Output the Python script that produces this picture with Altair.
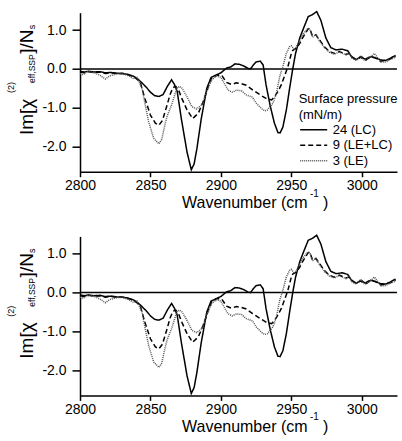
import altair as alt
import pandas as pd

FONT = "Liberation Sans"

names = ["24 (LC)", "9 (LE+LC)", "3 (LE)"]

wn_24 = [2800, 2803, 2806, 2810, 2814, 2818, 2822, 2826, 2830, 2834, 2838, 2841, 2844, 2847, 2850,
         2853, 2856, 2859, 2862, 2865, 2867, 2869, 2872, 2876, 2879, 2881, 2883, 2886, 2890, 2893,
         2897, 2900, 2904, 2907, 2910, 2913, 2916, 2919, 2921, 2923, 2925, 2928, 2930, 2932, 2935,
         2938, 2940.5, 2942, 2944, 2946.5, 2949, 2951, 2953, 2956, 2959, 2962, 2965, 2968, 2971,
         2974.5, 2978, 2981.7, 2986, 2990, 2992.5, 2996, 2999.5, 3003, 3006.5, 3010, 3013.5, 3017,
         3020.5, 3024]
im_24 = [-0.06, -0.08, -0.06, -0.08, -0.07, -0.10, -0.09, -0.11, -0.12, -0.14, -0.19, -0.26, -0.36,
         -0.47, -0.60, -0.69, -0.71, -0.66, -0.45, -0.28, -0.40, -0.58, -1.30, -2.15, -2.60, -2.45,
         -2.05, -1.30, -0.50, -0.22, -0.15, -0.10, 0.02, 0.05, 0.13, 0.12, 0.08, 0.02, 0.00, 0.10,
         0.18, 0.20, 0.10, -0.40, -0.95, -1.40, -1.64, -1.65, -1.50, -1.05, -0.45, 0.00, 0.40, 0.80,
         1.08, 1.35, 1.40, 1.48, 1.25, 0.80, 0.55, 0.49, 0.51, 0.47, 0.33, 0.24, 0.32, 0.23, 0.32,
         0.28, 0.23, 0.22, 0.28, 0.35]

wn_9 = [2800, 2803, 2806, 2810, 2814, 2818, 2822, 2826, 2830, 2834, 2838, 2841, 2843, 2846, 2850,
        2853.5, 2856, 2858.5, 2861.5, 2864, 2866, 2868, 2870, 2872.5, 2876, 2880, 2884, 2887.5,
        2891, 2893.5, 2897, 2900.5, 2904, 2907.5, 2911, 2914.5, 2918, 2922.5, 2927.5, 2932, 2936,
        2938, 2940.5, 2943, 2945, 2947.5, 2950, 2951, 2953.5, 2956, 2958, 2961.7, 2963, 2965,
        2967.5, 2970, 2973.5, 2977, 2980.5, 2984, 2988.8, 2991, 2993, 2996, 2999, 3002, 3006,
        3010, 3013.5, 3017, 3020.5, 3024]
im_9 = [-0.08, -0.10, -0.07, -0.09, -0.08, -0.12, -0.10, -0.12, -0.11, -0.15, -0.20, -0.28, -0.37,
        -0.76, -1.19, -1.40, -1.45, -1.33, -0.97, -0.65, -0.48, -0.45, -0.55, -0.78, -1.06, -1.28,
        -1.14, -0.84, -0.46, -0.24, -0.16, -0.16, -0.35, -0.40, -0.36, -0.38, -0.42, -0.54, -0.66,
        -0.76, -0.80, -0.72, -0.58, -0.40, -0.20, 0.05, 0.40, 0.48, 0.53, 0.66, 0.80, 1.02, 1.05,
        0.85, 0.88, 0.75, 0.57, 0.45, 0.40, 0.45, 0.38, 0.40, 0.30, 0.24, 0.30, 0.24, 0.32, 0.28,
        0.20, 0.22, 0.26, 0.32]

wn_3 = [2800, 2802, 2806, 2810, 2814, 2818, 2821, 2826, 2830, 2834, 2838, 2840.5, 2844, 2846.3,
        2848.7, 2852.3, 2856, 2858, 2860.5, 2862, 2865, 2868.7, 2870.5, 2872.5, 2876, 2879.3,
        2882.8, 2886.4, 2890, 2893.4, 2897, 2900, 2902, 2905, 2908, 2911, 2914.5, 2918, 2922.5,
        2925, 2928.7, 2931, 2933, 2935, 2937, 2939.4, 2941.7, 2944, 2946.4, 2948.7, 2950, 2952.3,
        2955.8, 2958, 2961.7, 2963, 2965, 2967.5, 2970, 2973.5, 2977, 2980.5, 2984, 2988.8, 2991,
        2993, 2996, 2999, 3002, 3006, 3009, 3013.5, 3017, 3020.5, 3024]
im_3 = [-0.12, -0.15, -0.06, -0.10, -0.16, -0.26, -0.18, -0.13, -0.12, -0.17, -0.25, -0.22, -0.50,
        -0.93, -1.36, -1.79, -1.93, -1.82, -1.40, -1.20, -0.93, -0.50, -0.45, -0.50, -0.72, -0.97,
        -1.03, -0.93, -0.58, -0.28, -0.18, -0.22, -0.35, -0.54, -0.60, -0.55, -0.56, -0.67, -0.73,
        -0.88, -1.02, -1.08, -1.06, -0.97, -0.88, -0.63, -0.20, 0.06, 0.40, 0.57, 0.60, 0.49, 0.72,
        0.88, 1.05, 1.03, 0.82, 0.88, 0.72, 0.55, 0.43, 0.38, 0.44, 0.36, 0.42, 0.28, 0.22, 0.33,
        0.22, 0.30, 0.40, 0.18, 0.18, 0.25, 0.30]

x_ticks = [2800, 2850, 2900, 2950, 3000]
y_ticks = [-2, -1, 0, 1]

df = pd.concat([
    pd.DataFrame({"wn": wn_24, "im": im_24, "series": names[0]}),
    pd.DataFrame({"wn": wn_9, "im": im_9, "series": names[1]}),
    pd.DataFrame({"wn": wn_3, "im": im_3, "series": names[2]}),
], ignore_index=True)

W, H = 317, 159

leg = alt.Legend(
    title=["Surface pressure", "(mN/m)"], orient="none", legendX=218.7, legendY=80,
    padding=0, titleFont=FONT, titleFontSize=13, titleFontWeight="normal", titleColor="black",
    titleLineHeight=16, titlePadding=1.5, labelFont=FONT, labelFontSize=13, labelColor="black",
    symbolType="M-1,0H4.4", symbolSize=100, symbolStrokeWidth=1.5, labelOffset=21, rowPadding=1.5,
)

lines = alt.Chart(df).mark_line(strokeWidth=1.5).encode(
    x=alt.X("wn:Q", scale=alt.Scale(domain=[2800, 3025], nice=False, zero=False),
            axis=alt.Axis(values=x_ticks, format="d", title=None, tickSize=5, labelPadding=2,
                          labelFlush=False, labelAlign="center")),
    y=alt.Y("im:Q", scale=alt.Scale(domain=[-2.65, 1.45], nice=False, zero=False),
            axis=alt.Axis(values=y_ticks, title=None, tickSize=8, labelPadding=6, labelFlush=False,
                          labelExpr="datum.value < 0 ? '-' + format(abs(datum.value), '.1f') : format(datum.value, '.1f')")),
    strokeDash=alt.StrokeDash("series:N", scale=alt.Scale(domain=names, range=[[1, 0], [5, 3], [1, 1]]), legend=leg),
    color=alt.Color("series:N", scale=alt.Scale(domain=names, range=["#000000", "#000000", "#555555"]), legend=leg),
)

zero = alt.Chart(pd.DataFrame({"z": [0]})).mark_rule(color="black", strokeWidth=1.5).encode(y="z:Q")


def txt(s, x, y, size, angle=0):
    return alt.Chart(pd.DataFrame({"t": [s]})).mark_text(
        align="left", baseline="alphabetic", fontSize=size, font=FONT, color="black", angle=angle
    ).encode(text="t:N", x=alt.value(x), y=alt.value(y))


titles = [
    txt("Wavenumber (cm", 102, 195.6, 16),
    txt("-1", 230, 184, 10),
    txt(")", 243, 195.6, 16),
    txt("Im[χ", -47.5, 122.3, 19, 270),
    txt("(2)", -66, 80.3, 9, 270),
    txt("eff,SSP", -45, 70.3, 8.5, 270),
    txt("]/N", -47.5, 41, 19, 270),
    txt("s", -45, 16.5, 9, 270),
]

panel = alt.layer(zero, lines, *titles).properties(width=W, height=H)

chart = alt.vconcat(panel, panel, spacing=64.7, bounds="flush").properties(
    padding={"left": 7, "top": 7.7, "right": 0, "bottom": 0},
).configure_view(stroke=None).configure_axis(
    grid=False, domainColor="black", domainWidth=1.5, tickColor="black", tickWidth=1.5,
    labelFont=FONT, labelFontSize=14, labelColor="black",
)

chart.save("out.html", embed_options={"renderer": "svg", "actions": False})
